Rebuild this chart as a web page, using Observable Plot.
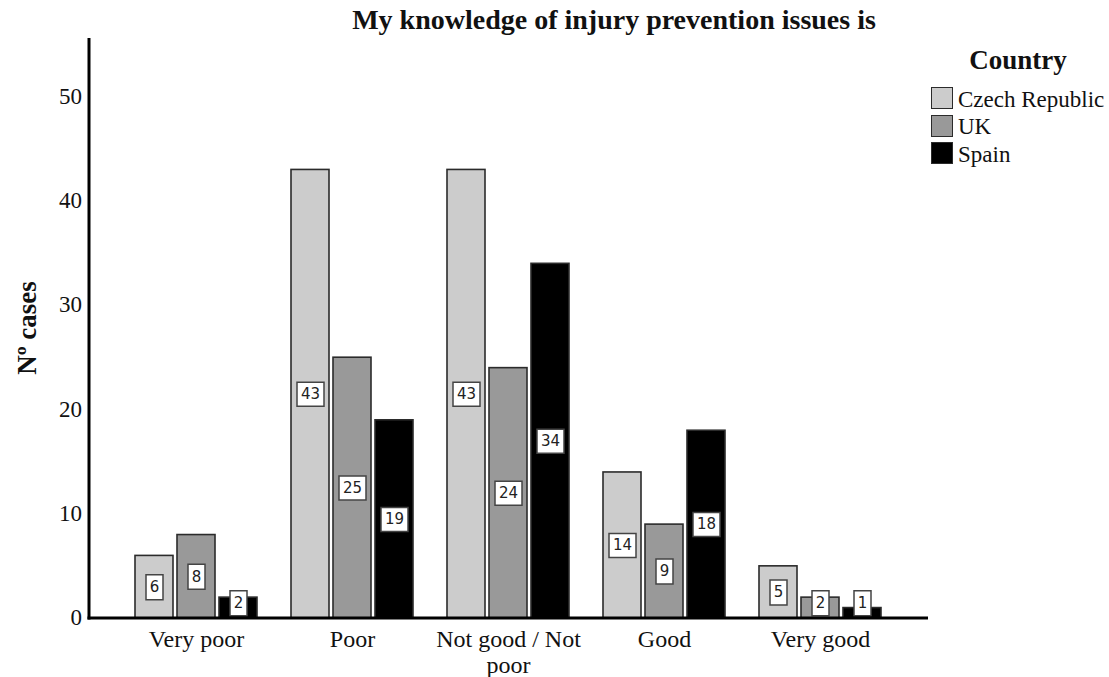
<!DOCTYPE html>
<html>
<head>
<meta charset="utf-8">
<script src="https://cdn.jsdelivr.net/npm/d3@7"></script>
<script src="https://cdn.jsdelivr.net/npm/@observablehq/plot@0.6"></script>
<style>
  body { margin: 0; background: #fff; }
  #wrap { position: relative; width: 1109px; height: 677px; overflow: hidden; }
  #chart { position: absolute; left: 0; top: 0; }
  .serif { font-family: "Liberation Serif", "Times New Roman", serif; color: #111; }
  #title { position: absolute; top: 6px; left: 614px; transform: translateX(-50%); white-space: nowrap;
           font-weight: bold; font-size: 28px; line-height: 27px; }
  #legend-title { position: absolute; top: 47px; left: 1018px; transform: translateX(-50%); white-space: nowrap;
           font-weight: bold; font-size: 27px; line-height: 27px; }
  .sw { position: absolute; left: 931px; width: 22px; height: 22px; box-sizing: border-box; border: 1.6px solid #2b2b2b; }
  .lt { position: absolute; left: 958px; font-size: 23px; line-height: 22px; white-space: nowrap; }
</style>
</head>
<body>
<div id="wrap">
  <div id="chart"></div>
  <div id="title" class="serif"></div>
  <div id="legend-title" class="serif"></div>
  <div id="legend" class="serif"></div>
</div>
<script>
// ---- data ----
const titleText = "My knowledge of injury prevention issues is";
const yLabel = "Nº cases";
const legendTitle = "Country";
const categories = ["Very poor", "Poor", "Not good / Not poor", "Good", "Very good"];
const categoryLabels = ["Very poor", "Poor", "Not good / Not\npoor", "Good", "Very good"];
const countries = ["Czech Republic", "UK", "Spain"];
const czech = [6, 43, 43, 14, 5];
const uk = [8, 25, 24, 9, 2];
const spain = [2, 19, 34, 18, 1];
const yTicks = [0, 10, 20, 30, 40, 50];
const colors = ["#cccccc", "#999999", "#000000"];

const series = [czech, uk, spain];
const data = categories.flatMap((c, i) =>
  countries.map((k, j) => ({category: c, country: k, value: series[j][i]}))
);

const serif = "'Liberation Serif', 'Times New Roman', serif";
const minLabelY = 1.45; // labels never sink below the baseline
const labelY = d => Math.max(d.value / 2, minLabelY);
const boxSymbol = (w, h) => ({draw(ctx) { ctx.rect(-w / 2, -h / 2, w, h); }});

// axis lines, y tick labels and y title drawn from the plot's own scales
function axesRender(index, scales, values, dims) {
  const [x0, x1] = scales.fx ? scales.fx.range() : [dims.marginLeft, dims.width - dims.marginRight];
  const [y0, y1] = scales.y.range();
  const g = d3.create("svg:g");
  g.append("line").attr("x1", x0).attr("x2", x0).attr("y1", y1).attr("y2", y0 + 1.5)
    .attr("stroke", "#000").attr("stroke-width", 3);
  g.append("line").attr("x1", x0 - 1.5).attr("x2", x1).attr("y1", scales.y(0)).attr("y2", scales.y(0))
    .attr("stroke", "#000").attr("stroke-width", 3);
  g.append("g").attr("font-size", 23).attr("text-anchor", "end").attr("fill", "#111")
    .selectAll("text").data(yTicks).join("text")
    .attr("x", x0 - 7)
    .attr("y", d => scales.y(d))
    .attr("dy", "0.32em")
    .text(d => String(d));
  g.append("text")
    .attr("transform", `translate(${x0 - 62},${(y0 + y1) / 2}) rotate(-90)`)
    .attr("text-anchor", "middle").attr("dy", "0.32em")
    .attr("font-size", 27).attr("font-weight", "bold").attr("fill", "#111")
    .text(yLabel);
  return g.node();
}

const chart = Plot.plot({
  width: 1109,
  height: 677,
  marginLeft: 89,
  marginRight: 181,
  marginTop: 38,
  marginBottom: 59,
  style: {background: "transparent", color: "#111", fontFamily: serif, overflow: "visible"},
  fx: {domain: categories, paddingInner: 0.2026, paddingOuter: 0.2776, label: null},
  x: {domain: countries, paddingInner: 0.1, paddingOuter: 0, axis: null},
  y: {domain: [0, 55.6], axis: null},
  color: {domain: countries, range: colors},
  marks: [
    Plot.barY(data, {fx: "category", x: "country", y: "value", fill: "country",
                     stroke: "#2b2b2b", strokeWidth: 1.6}),
    Plot.dot(data.filter(d => String(d.value).length === 1),
             {fx: "category", x: "country", y: labelY, r: 5, symbol: boxSymbol(17, 25),
              fill: "white", stroke: "#444", strokeWidth: 1.5}),
    Plot.dot(data.filter(d => String(d.value).length === 2),
             {fx: "category", x: "country", y: labelY, r: 5, symbol: boxSymbol(27, 24),
              fill: "white", stroke: "#444", strokeWidth: 1.5}),
    Plot.text(data, {fx: "category", x: "country", y: labelY, text: d => String(d.value),
                     fontFamily: "'DejaVu Sans', sans-serif", fontSize: 15, fill: "#222"}),
    Plot.frame({facet: "super", stroke: "none", render: axesRender}),
    Plot.axisFx({anchor: "bottom", tickSize: 0, tickPadding: 11, fontSize: 24, lineHeight: 1.05,
                 label: null, fill: "#111",
                 tickFormat: d => categoryLabels[categories.indexOf(d)]})
  ]
});
document.getElementById("chart").appendChild(chart);

document.getElementById("title").textContent = titleText;
document.getElementById("legend-title").textContent = legendTitle;
const legend = document.getElementById("legend");
countries.forEach((k, i) => {
  const top = 87 + i * 27.5;
  const sw = document.createElement("div");
  sw.className = "sw";
  sw.style.top = top + "px";
  sw.style.background = colors[i];
  legend.appendChild(sw);
  const t = document.createElement("div");
  t.className = "lt";
  t.style.top = (top + 1.5) + "px";
  t.textContent = k;
  legend.appendChild(t);
});
</script>
</body>
</html>
